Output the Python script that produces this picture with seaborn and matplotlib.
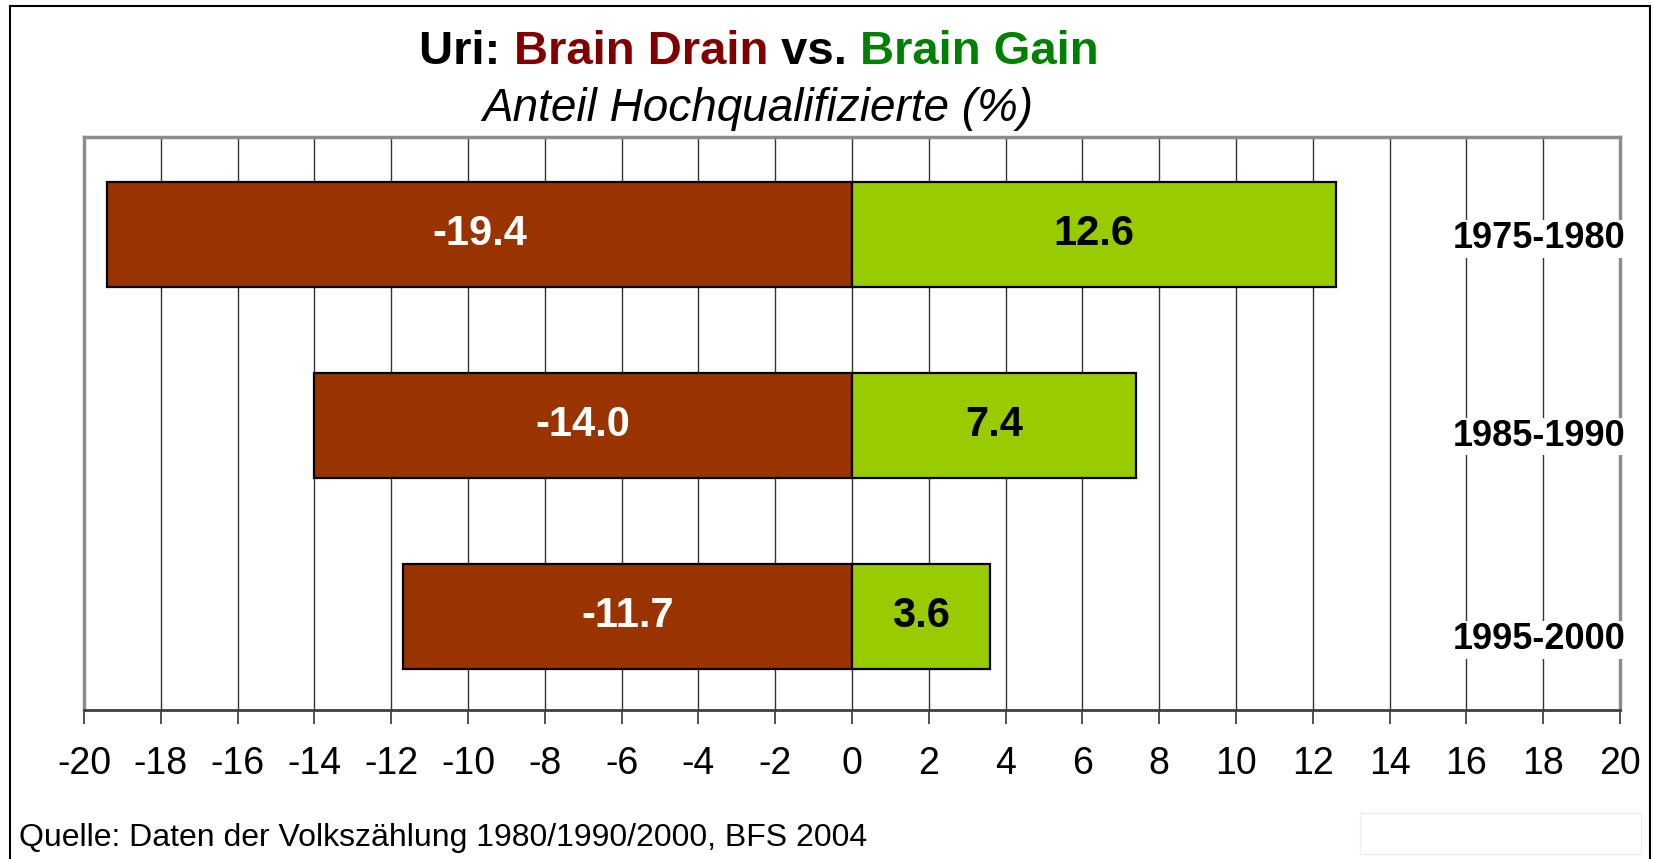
import pandas as pd
import matplotlib
matplotlib.use('Agg')
import matplotlib.pyplot as plt
import seaborn as sns
from matplotlib.offsetbox import TextArea, HPacker, AnnotationBbox
from matplotlib.patches import Rectangle

# Data
periods = ['1975-1980', '1985-1990', '1995-2000']
brain_drain = [-19.4, -14.0, -11.7]
brain_gain = [12.6, 7.4, 3.6]
x_ticks = list(range(-20, 21, 2))

df = pd.DataFrame({
    'period': periods * 2,
    'value': brain_drain + brain_gain,
    'kind': ['Brain Drain'] * len(periods) + ['Brain Gain'] * len(periods),
})

sns.set_style('white')
plt.rcParams['font.family'] = ['Liberation Sans', 'DejaVu Sans']
plt.rcParams['text.color'] = 'black'
plt.rcParams['xtick.color'] = 'black'
plt.rcParams['xtick.labelcolor'] = 'black'

fig = plt.figure(figsize=(16.54, 8.59), dpi=100)
ax = fig.add_axes([0.0508, 0.1735, 0.9286, 0.667])

sns.barplot(data=df, x='value', y='period', hue='kind', orient='h', dodge=False,
            palette={'Brain Drain': '#993300', 'Brain Gain': '#99CC00'},
            saturation=1, width=0.55, edgecolor='black', linewidth=1.6,
            legend=False, ax=ax)

# value labels inside the bars
for cont, col in zip(ax.containers, ['white', 'black']):
    ax.bar_label(cont, fmt='%.1f', label_type='center', color=col,
                 fontsize=30, fontweight='bold')

# period labels at the right edge, on white boxes over the grid
label_offsets = [-3, -8, -17]
for i, (p, off) in enumerate(zip(periods, label_offsets)):
    ax.annotate(p, xy=(1.0, i), xycoords=ax.get_yaxis_transform(),
                xytext=(4, off), textcoords='offset points',
                ha='right', va='center', fontsize=26, fontweight='bold',
                color='black',
                bbox=dict(facecolor='white', edgecolor='none', pad=1), zorder=5)

ax.set_xlim(-20, 20)
ax.set_ylim(2.49, -0.51)
ax.set_xticks(x_ticks)
ax.set_xticklabels([str(t) for t in x_ticks], fontsize=27)
ax.set_yticks([])
ax.set_xlabel('')
ax.set_ylabel('')
ax.set_axisbelow(True)
ax.grid(axis='x', color='#333333', linewidth=1)
ax.tick_params(axis='x', direction='out', length=10, width=1.2, color='#333333',
               pad=16, bottom=True)
for side in ['top', 'left', 'right']:
    ax.spines[side].set_color('#8c8c8c')
    ax.spines[side].set_linewidth(2.5)
ax.spines['bottom'].set_color('#404040')
ax.spines['bottom'].set_linewidth(2)

# multi-coloured title
parts = [('Uri: ', 'black'), ('Brain Drain', '#800000'),
         (' vs. ', 'black'), ('Brain Gain', '#008000')]
boxes = [TextArea(t, textprops=dict(color=c, fontsize=34, fontweight='bold'))
         for t, c in parts]
title = HPacker(children=boxes, sep=0, pad=0, align='baseline')
fig.add_artist(AnnotationBbox(title, (0.459, 0.94), xycoords='figure fraction',
                              frameon=False, box_alignment=(0.5, 0.5)))
fig.text(0.458, 0.873, 'Anteil Hochqualifizierte (%)', ha='center', va='center',
         fontsize=33, style='italic')

fig.text(0.0115, 0.024, 'Quelle: Daten der Volkszählung 1980/1990/2000, BFS 2004',
         ha='left', va='center', fontsize=23)

# outer frame and faint box bottom right
fig.add_artist(Rectangle((0.006, -0.05), 0.9916, 1.043, transform=fig.transFigure,
                         fill=False, edgecolor='black', linewidth=1.5))
fig.add_artist(Rectangle((0.822, 0.006), 0.17, 0.048, transform=fig.transFigure,
                         fill=False, edgecolor='#eeeeee', linewidth=1))

fig.savefig('out.png', dpi=100)
